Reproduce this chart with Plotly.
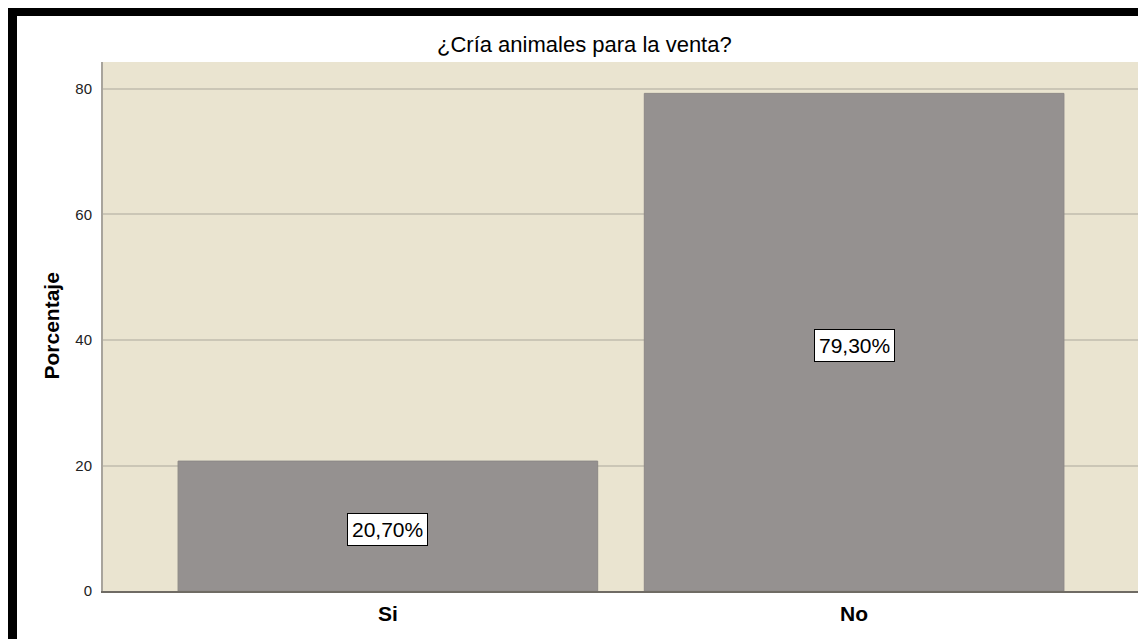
import plotly.graph_objects as go

categories = ["Si", "No"]
values = [20.7, 79.3]
labels = ["20,70%", "79,30%"]
y_ticks = [0, 20, 40, 60, 80]
title_text = "¿Cría animales para la venta?"
y_title = "Porcentaje"

# The page body has an 8px margin; the figure is sized to fill the rest of the window
OFF = 8
W, H = 1146 - OFF, 639 - OFF
L, R, T, B = 103 - OFF, 7, 62 - OFF, 48
pw, ph = W - L - R, H - T - B

def px_x(p):
    return (p - OFF - L) / pw

def px_y(p):
    return (H - B - (p - OFF)) / ph

FONT = "Liberation Sans, Arial"

fig = go.Figure()
fig.add_trace(go.Bar(
    x=categories, y=values, width=0.9,
    marker=dict(color="#959190", line=dict(color="#8c8886", width=1)),
    hoverinfo="skip",
))

for c, v, t in zip(categories, values, labels):
    fig.add_annotation(
        x=c, y=v / 2, xref="x", yref="y", text=t, showarrow=False,
        font=dict(family=FONT, size=21, color="black"),
        bgcolor="white", bordercolor="black", borderwidth=1, borderpad=4,
        yshift=-3,
    )

fig.add_annotation(
    x=px_x(584), y=px_y(45), xref="paper", yref="paper", text=title_text,
    showarrow=False, xanchor="center", yanchor="middle",
    font=dict(family=FONT, size=22, color="black"),
)
fig.add_annotation(
    x=px_x(51), y=0.5, xref="paper", yref="paper", text="<b>" + y_title + "</b>",
    showarrow=False, xanchor="center", yanchor="middle", textangle=-90,
    font=dict(family=FONT, size=21, color="black"),
)

# black frame (top and left)
fig.add_shape(type="rect", xref="paper", yref="paper",
              x0=px_x(9), x1=px_x(1150), y0=px_y(16), y1=px_y(7),
              fillcolor="black", line=dict(width=0), layer="above")
fig.add_shape(type="rect", xref="paper", yref="paper",
              x0=px_x(8), x1=px_x(17), y0=px_y(645), y1=px_y(7),
              fillcolor="black", line=dict(width=0), layer="above")

fig.update_layout(
    width=W, height=H,
    margin=dict(l=L, r=R, t=T, b=B, autoexpand=False),
    paper_bgcolor="white", plot_bgcolor="#EAE4D0",
    showlegend=False, bargap=0.1,
    font=dict(family=FONT, color="black"),
)
fig.update_xaxes(
    range=[-0.611, 1.611], showgrid=False, zeroline=False,
    showline=True, linecolor="#6f6b64", linewidth=2,
    ticks="", tickfont=dict(size=21, family=FONT, color="black"),
    tickprefix="<b>", ticksuffix="</b>", ticklabelstandoff=3,
)
fig.update_yaxes(
    range=[0, 84.3], tickvals=y_ticks, showgrid=True, gridcolor="#CBC6B6", gridwidth=2,
    zeroline=False, showline=True, linecolor="#a8a49c", linewidth=2,
    ticks="", tickfont=dict(size=15, family=FONT, color="#222"),
    ticklabelstandoff=6,
)

fig.write_html("out.html")
